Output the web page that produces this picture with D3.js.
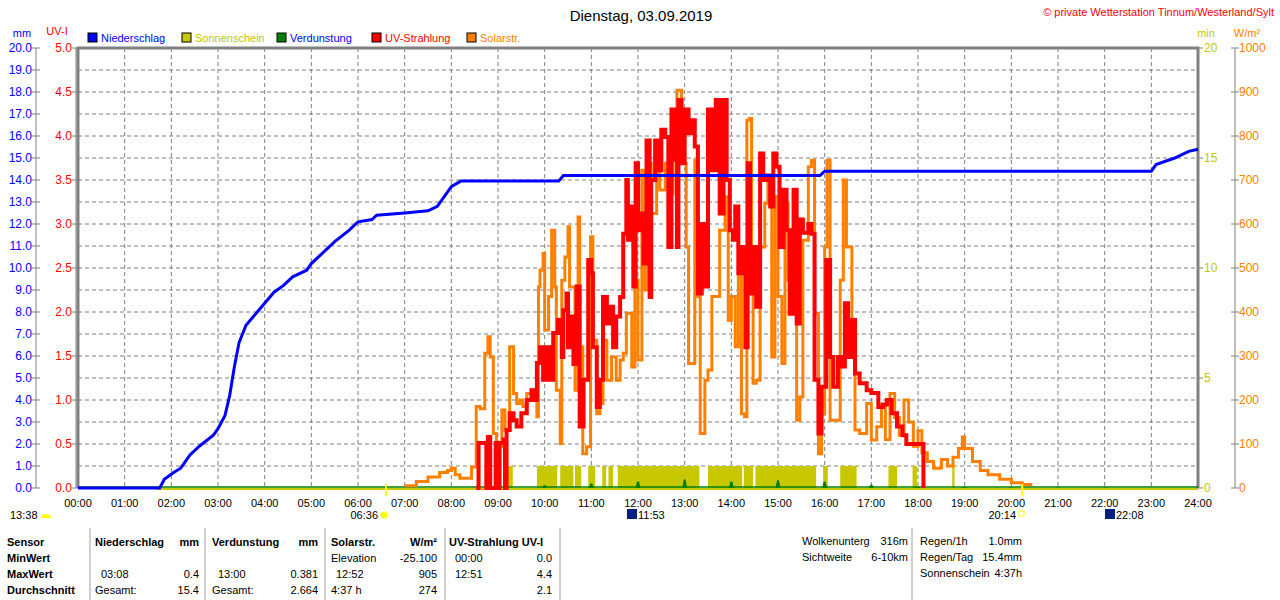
<!DOCTYPE html>
<html>
<head>
<meta charset="utf-8">
<script src="https://cdn.jsdelivr.net/npm/d3@7"></script>
<style>
body { margin: 0; background: #fff; }
text { font-family: "Liberation Sans", Arial, sans-serif; }
</style>
</head>
<body>
<div id="svg-area"></div>
<script>
// ---- data ----
var hourLabels = d3.range(0, 25).map(h => (h < 10 ? "0" : "") + h + ":00");
var mmTicks = d3.range(0, 21);
var uvTicks = d3.range(0, 5.01, 0.5);
var minTicks = [0, 5, 10, 15, 20];
var wTicks = d3.range(0, 1001, 100);

// Niederschlag, cumulative mm (time in minutes)
var rainTime = [0, 105, 111, 123, 132, 144, 156, 174, 180, 189, 195, 201, 207, 216, 228, 240, 252, 264, 276, 294, 300, 312, 330, 348, 360, 378, 384, 420, 450, 462, 480, 492, 540, 618, 624, 954, 960, 1380, 1386, 1410, 1428, 1440];
var rainVal = [0, 0, 0.4, 0.7, 0.9, 1.5, 1.9, 2.4, 2.7, 3.3, 4.2, 5.5, 6.6, 7.4, 7.9, 8.4, 8.9, 9.2, 9.6, 9.9, 10.2, 10.6, 11.2, 11.7, 12.1, 12.2, 12.4, 12.5, 12.6, 12.8, 13.7, 13.95, 13.95, 13.95, 14.2, 14.2, 14.4, 14.4, 14.7, 15.0, 15.3, 15.4];

// Solarstrahlung W/m2
var solarTime = [420, 435, 450, 465, 475, 480, 485, 491, 506, 512, 517, 523, 527, 530, 534, 538, 545, 549, 555, 560, 564, 568, 572, 577, 583, 590, 592, 594, 598, 600, 605, 609, 613, 615, 620, 622, 626, 630, 632, 639, 643, 645, 649, 654, 659, 662, 667, 671, 675, 680, 686, 692, 697, 701, 705, 712, 716, 720, 725, 729, 733, 737, 744, 748, 755, 759, 765, 770, 776, 782, 785, 789, 793, 797, 800, 806, 810, 815, 821, 825, 832, 836, 840, 845, 849, 853, 857, 860, 863, 866, 868, 872, 877, 883, 887, 892, 896, 900, 905, 909, 913, 917, 924, 928, 932, 939, 943, 947, 952, 956, 960, 963, 967, 973, 980, 984, 988, 995, 999, 1005, 1014, 1020, 1027, 1033, 1038, 1044, 1050, 1056, 1062, 1068, 1074, 1080, 1085, 1092, 1100, 1110, 1118, 1125, 1132, 1137, 1140, 1150, 1160, 1170, 1185, 1200, 1214, 1225];
var solarVal = [5, 15, 25, 35, 40, 45, 30, 22, 48, 185, 180, 306, 344, 298, 124, 94, 177, 132, 321, 215, 192, 200, 185, 215, 222, 162, 457, 495, 533, 359, 435, 586, 457, 222, 101, 472, 525, 594, 457, 222, 616, 321, 78, 94, 571, 336, 169, 192, 336, 245, 298, 245, 291, 306, 397, 275, 472, 291, 722, 450, 738, 624, 722, 677, 738, 669, 753, 904, 738, 548, 283, 283, 745, 435, 124, 245, 268, 435, 435, 586, 662, 381, 435, 321, 488, 169, 162, 836, 840, 503, 238, 245, 548, 647, 700, 298, 662, 435, 283, 647, 472, 586, 154, 207, 563, 730, 745, 397, 78, 169, 548, 745, 154, 154, 472, 700, 548, 381, 132, 124, 192, 109, 139, 190, 110, 215, 160, 120, 200, 150, 95, 130, 80, 60, 45, 65, 50, 70, 90, 116, 90, 60, 40, 30, 20, 12, 8, 4, 2, 0];

// UV-Strahlung UV-I
var uvTime = [512, 515, 521, 525, 527, 530, 534, 537, 540, 542, 547, 549, 551, 555, 560, 564, 570, 577, 583, 587, 590, 594, 598, 602, 607, 611, 617, 622, 624, 628, 630, 632, 637, 641, 645, 650, 656, 660, 662, 667, 671, 675, 680, 684, 688, 692, 697, 701, 705, 707, 712, 714, 717, 720, 725, 727, 731, 735, 737, 742, 746, 750, 755, 759, 763, 767, 770, 772, 776, 780, 785, 789, 793, 797, 802, 806, 810, 815, 820, 825, 830, 834, 838, 842, 845, 849, 853, 858, 861, 864, 868, 872, 877, 881, 885, 890, 894, 898, 902, 907, 911, 915, 920, 924, 928, 932, 939, 943, 947, 952, 956, 962, 967, 971, 977, 982, 986, 990, 995, 999, 1005, 1014, 1020, 1029, 1035, 1040, 1046, 1053, 1060, 1065, 1072, 1085, 1087];
var uvVal = [0, 0.51, 0.51, 0, 0.58, 0, 0, 0.51, 0, 0.51, 0.55, 0, 0.66, 0.85, 0.77, 0.70, 0.85, 1.0, 1.11, 1.0, 1.42, 1.60, 1.23, 1.6, 1.23, 1.76, 1.91, 1.49, 2.02, 2.21, 1.6, 1.95, 1.41, 2.29, 0.70, 1.23, 2.59, 2.44, 1.6, 0.92, 1.23, 2.17, 1.87, 2.06, 1.6, 1.95, 2.17, 2.89, 3.5, 2.82, 3.2, 2.29, 3.69, 2.93, 3.12, 2.55, 3.95, 2.17, 3.5, 3.95, 3.61, 4.07, 3.99, 2.74, 4.3, 3.73, 2.74, 4.41, 3.69, 4.3, 4.03, 4.18, 3.88, 2.21, 3.0, 2.29, 4.3, 3.61, 4.41, 3.12, 4.41, 3.5, 2.93, 2.82, 3.2, 2.44, 2.74, 1.6, 3.69, 2.21, 2.74, 2.06, 3.8, 3.5, 3.55, 3.2, 3.8, 3.65, 2.74, 3.39, 2.93, 1.98, 3.39, 1.87, 3.05, 2.9, 3.0, 2.89, 1.23, 0.62, 1.15, 2.59, 1.49, 1.15, 1.49, 1.38, 2.10, 1.49, 1.91, 1.3, 1.19, 1.11, 1.08, 0.92, 0.95, 1.0, 0.85, 0.7, 0.6, 0.5, 0.5, 0.5, 0];

// Sonnenschein intervals (minutes) with minutes of sun per interval
var sunStart = [513, 523, 551, 590, 620, 639, 656, 674, 682, 694, 810, 856, 871, 901, 958, 980, 1042, 1073, 1124];
var sunEnd   = [517, 527, 559, 616, 637, 647, 665, 679, 688, 799, 854, 868, 925, 949, 964, 1001, 1053, 1079, 1127];
var sunVal = 1;

// Verdunstung per hour (mm)
var evapHour = [9, 10, 11, 12, 13, 14, 15, 16, 17, 18, 19, 20, 21, 22, 23];
var evapVal = [0.03, 0.12, 0.2, 0.3, 0.381, 0.3, 0.35, 0.3, 0.15, 0.06, 0.03, 0.02, 0.02, 0.02, 0.01];

// ---- layout ----
var svgWidth = 1280, svgHeight = 600;
var margin = { top: 48, left: 78, right: 82, bottom: 112 };
var chartWidth = svgWidth - margin.left - margin.right;   // 1120
var chartHeight = svgHeight - margin.top - margin.bottom; // 440

var svg = d3.select("#svg-area").append("svg")
    .attr("width", svgWidth).attr("height", svgHeight);

var x = d3.scaleLinear().domain([0, 1440]).range([margin.left, margin.left + chartWidth]);
var yMm = d3.scaleLinear().domain([0, 20]).range([margin.top + chartHeight, margin.top]);
var yUv = d3.scaleLinear().domain([0, 5]).range(yMm.range());
var yMin = d3.scaleLinear().domain([0, 20]).range(yMm.range());
var yW = d3.scaleLinear().domain([0, 1000]).range(yMm.range());
var bottom = margin.top + chartHeight;

// title
svg.append("text").attr("x", 641).attr("y", 21).attr("text-anchor", "middle")
    .attr("font-size", 15).text("Dienstag, 03.09.2019");
svg.append("text").attr("x", 1274).attr("y", 16).attr("text-anchor", "end")
    .attr("font-size", 11).attr("fill", "#f00").text("© private Wetterstation Tinnum/Westerland/Sylt");

// grid
var grid = svg.append("g").attr("stroke", "#808080").attr("stroke-dasharray", "4,3");
grid.selectAll("line.h").data(mmTicks.slice(1, 20)).enter().append("line")
    .attr("x1", margin.left).attr("x2", margin.left + chartWidth)
    .attr("y1", d => yMm(d)).attr("y2", d => yMm(d));
grid.selectAll("line.v").data(d3.range(1, 24)).enter().append("line")
    .attr("y1", margin.top).attr("y2", bottom)
    .attr("x1", d => x(d * 60)).attr("x2", d => x(d * 60));

// frame
svg.append("path").attr("fill", "none").attr("stroke", "#808080").attr("stroke-width", 3)
    .attr("d", `M${margin.left},${bottom}V${margin.top}H${margin.left + chartWidth}V${bottom}`);

// side axes
function sideAxis(scale, ticks, xPos, color, fmt, anchor, dx) {
    var g = svg.append("g");
    g.append("line").attr("x1", xPos).attr("x2", xPos).attr("y1", margin.top).attr("y2", bottom).attr("stroke", "#808080");
    g.selectAll("line.t").data(ticks).enter().append("line")
        .attr("x1", xPos - 4).attr("x2", xPos + 4).attr("y1", d => scale(d)).attr("y2", d => scale(d)).attr("stroke", "#808080");
    g.selectAll("text").data(ticks).enter().append("text")
        .attr("x", xPos + dx).attr("y", d => scale(d) + 4).attr("text-anchor", anchor)
        .attr("font-size", 12).attr("fill", color).text(fmt);
}
sideAxis(yMm, mmTicks, 36, "#00f", d => d.toFixed(1), "end", -4);
sideAxis(yUv, uvTicks, 76, "#f00", d => d.toFixed(1), "end", -4);
sideAxis(yW, wTicks, 1235, "#ff8000", d => d, "start", 4);
svg.selectAll("text.minl").data(minTicks).enter().append("text")
    .attr("x", 1204).attr("y", d => yMin(d) + 4).attr("font-size", 12).attr("fill", "#c8c800").text(d => d);
svg.selectAll("line.mint").data(minTicks).enter().append("line")
    .attr("x1", 1198).attr("x2", 1203).attr("y1", d => yMin(d)).attr("y2", d => yMin(d)).attr("stroke", "#808080");

// axis titles
svg.append("text").attr("x", 22).attr("y", 37).attr("font-size", 11).attr("fill", "#00f").attr("text-anchor", "middle").text("mm");
svg.append("text").attr("x", 57).attr("y", 35).attr("font-size", 11).attr("fill", "#f00").attr("text-anchor", "middle").text("UV-I");
svg.append("text").attr("x", 1206).attr("y", 37).attr("font-size", 11).attr("fill", "#c8c800").attr("text-anchor", "middle").text("min");
svg.append("text").attr("x", 1247).attr("y", 37).attr("font-size", 11).attr("fill", "#ff8000").attr("text-anchor", "middle").text("W/m²");

// legend
var legend = [["Niederschlag", "#0000ff", "#0000ff"], ["Sonnenschein", "#c8c800", "#c8c800"], ["Verdunstung", "#008000", "#0000ff"],
    ["UV-Strahlung", "#ff0000", "#ff0000"], ["Solarstr.", "#ff8000", "#ff8000"]];
var legX = [88, 182, 277, 372, 467];
legend.forEach(function (l, i) {
    svg.append("rect").attr("x", legX[i]).attr("y", 33).attr("width", 9).attr("height", 9)
        .attr("fill", l[1]).attr("stroke", "#000");
    svg.append("text").attr("x", legX[i] + 13).attr("y", 42).attr("font-size", 11).attr("fill", l[2]).text(l[0]);
});

// x axis labels
svg.selectAll("text.hx").data(hourLabels).enter().append("text")
    .attr("x", (d, i) => x(i * 60)).attr("y", 507).attr("text-anchor", "middle")
    .attr("font-size", 11).text(d => d);

// sunshine bars
svg.append("g").selectAll("rect").data(sunStart).enter().append("rect")
    .attr("x", d => x(d)).attr("width", (d, i) => x(sunEnd[i]) - x(d))
    .attr("y", yMin(sunVal)).attr("height", bottom - yMin(sunVal)).attr("fill", "#c8c800");
svg.append("line").attr("x1", x(100)).attr("x2", x(1440)).attr("y1", bottom + 1).attr("y2", bottom + 1)
    .attr("stroke", "#c8c800").attr("stroke-width", 2);

// evaporation spikes
svg.append("g").selectAll("path").data(evapHour).enter().append("path")
    .attr("fill", "#008000")
    .attr("d", (d, i) => `M${x(d * 60) - 2.5},${bottom}L${x(d * 60) - 1},${yMm(evapVal[i])}L${x(d * 60) + 1},${yMm(evapVal[i])}L${x(d * 60) + 2.5},${bottom}Z`);
svg.append("line").attr("x1", x(0)).attr("x2", x(1440)).attr("y1", bottom - 1).attr("y2", bottom - 1)
    .attr("stroke", "#008000").attr("stroke-width", 1.5);

// solar
svg.append("path").datum(solarTime)
    .attr("fill", "none").attr("stroke", "#ff8000").attr("stroke-width", 3)
    .attr("d", d3.line().curve(d3.curveStepAfter).x(d => x(d)).y((d, i) => yW(solarVal[i])));
// uv
svg.append("path").datum(uvTime)
    .attr("fill", "none").attr("stroke", "#ff0000").attr("stroke-width", 4)
    .attr("d", d3.line().curve(d3.curveStepAfter).x(d => x(d)).y((d, i) => yUv(uvVal[i])));
// rain
svg.append("path").datum(rainTime)
    .attr("fill", "none").attr("stroke", "#0000ff").attr("stroke-width", 3)
    .attr("d", d3.line().x(d => x(d)).y((d, i) => yMm(rainVal[i])));

// sun / moon times
function mark(label, lx, anchor) {
    svg.append("text").attr("x", lx).attr("y", 519).attr("font-size", 11).attr("text-anchor", anchor).text(label);
}
mark("13:38", 10, "start");
svg.append("path").attr("d", "M41,518a5,4 0 0 1 10,0z").attr("fill", "#ffff00");
mark("06:36", 378, "end");
svg.append("line").attr("x1", x(396)).attr("x2", x(396)).attr("y1", 484).attr("y2", 496).attr("stroke", "#ffff00").attr("stroke-width", 2);
svg.append("circle").attr("cx", 384).attr("cy", 515).attr("r", 3.5).attr("fill", "#ffff00");
svg.append("rect").attr("x", 627).attr("y", 509).attr("width", 10).attr("height", 10).attr("fill", "#002080");
svg.append("text").attr("x", 638).attr("y", 519).attr("font-size", 11).text("11:53");
mark("20:14", 1016, "end");
svg.append("line").attr("x1", x(1214)).attr("x2", x(1214)).attr("y1", 484).attr("y2", 496).attr("stroke", "#ffff00").attr("stroke-width", 2);
svg.append("rect").attr("x", 1019).attr("y", 511).attr("width", 5).attr("height", 5).attr("fill", "none").attr("stroke", "#ffff00");
svg.append("rect").attr("x", 1105).attr("y", 509).attr("width", 10).attr("height", 10).attr("fill", "#002080");
svg.append("text").attr("x", 1116).attr("y", 519).attr("font-size", 11).text("22:08");

// table
var tbl = svg.append("g").attr("font-size", 11);
[90, 205, 325, 445, 560, 912].forEach(function (sx) {
    tbl.append("line").attr("x1", sx).attr("x2", sx).attr("y1", 528).attr("y2", 600).attr("stroke", "#a0a0a0");
});
var rowsY = [546, 562, 578, 594];
["Sensor", "MinWert", "MaxWert", "Durchschnitt"].forEach((t, i) =>
    tbl.append("text").attr("x", 7).attr("y", rowsY[i]).attr("font-weight", "bold").text(t));
var cells = [
    [95, 0, "Niederschlag", "start", true], [199, 0, "mm", "end", true],
    [212, 0, "Verdunstung", "start", true], [318, 0, "mm", "end", true],
    [331, 0, "Solarstr.", "start", true], [437, 0, "W/m²", "end", true],
    [449, 0, "UV-Strahlung UV-I", "start", true],
    [331, 1, "Elevation", "start"], [437, 1, "-25.100", "end"], [455, 1, "00:00", "start"], [552, 1, "0.0", "end"],
    [101, 2, "03:08", "start"], [199, 2, "0.4", "end"], [218, 2, "13:00", "start"], [318, 2, "0.381", "end"],
    [336, 2, "12:52", "start"], [437, 2, "905", "end"], [455, 2, "12:51", "start"], [552, 2, "4.4", "end"],
    [95, 3, "Gesamt:", "start"], [199, 3, "15.4", "end"], [212, 3, "Gesamt:", "start"], [318, 3, "2.664", "end"],
    [331, 3, "4:37 h", "start"], [437, 3, "274", "end"], [552, 3, "2.1", "end"],
    [802, 0, "Wolkenunterg", "start"], [908, 0, "316m", "end"], [802, 1, "Sichtweite", "start"], [908, 1, "6-10km", "end"],
    [920, 0, "Regen/1h", "start"], [1022, 0, "1.0mm", "end"], [920, 1, "Regen/Tag", "start"], [1022, 1, "15.4mm", "end"],
    [920, 2, "Sonnenschein", "start"], [1022, 2, "4:37h", "end"]];
cells.forEach(function (c) {
    var yy = c[0] >= 800 ? [545, 561, 577][c[1]] : rowsY[c[1]];
    tbl.append("text").attr("x", c[0]).attr("y", yy).attr("text-anchor", c[3])
        .attr("font-weight", c[4] ? "bold" : "normal").text(c[2]);
});
</script>
</body>
</html>
